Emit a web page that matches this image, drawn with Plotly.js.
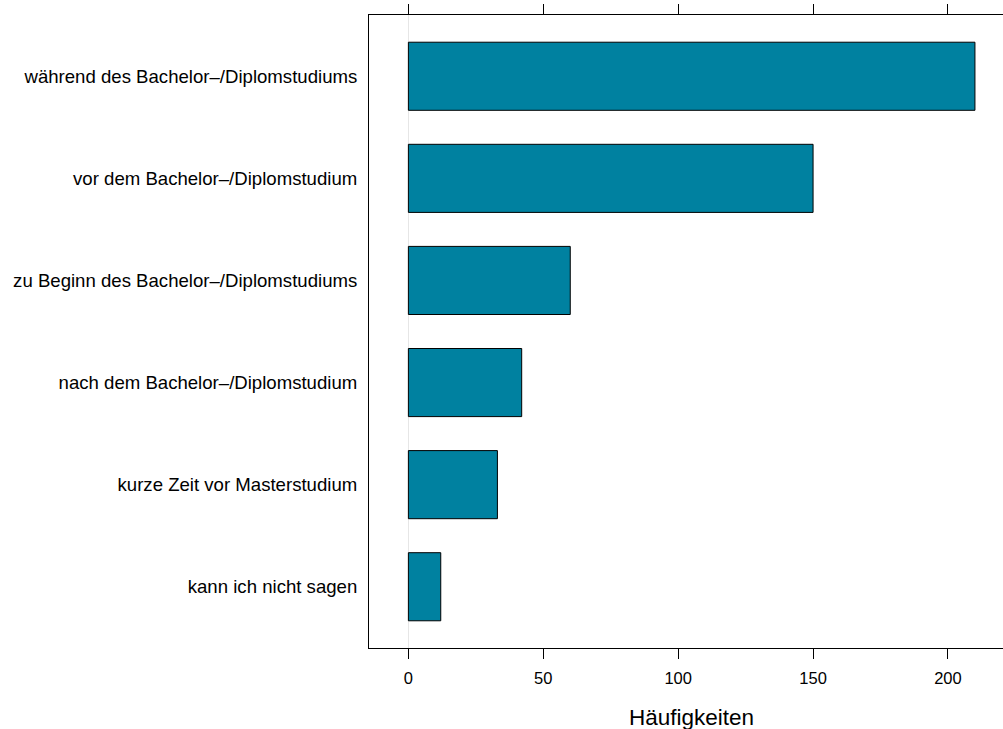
<!DOCTYPE html>
<html>
<head>
<meta charset="utf-8">
<script src="https://cdn.plot.ly/plotly-3.0.1.min.js"></script>
<style>html,body{margin:0;padding:0;background:#fff;}#chart{width:1003px;height:729px;}</style>
</head>
<body>
<div id="chart"></div>
<script>
const categories = [
  "während des Bachelor–/Diplomstudiums",
  "vor dem Bachelor–/Diplomstudium",
  "zu Beginn des Bachelor–/Diplomstudiums",
  "nach dem Bachelor–/Diplomstudium",
  "kurze Zeit vor Masterstudium",
  "kann ich nicht sagen"
];
const counts = [210, 150, 60, 42, 33, 12];
const tickValues = [0, 50, 100, 150, 200];
const xTitle = "Häufigkeiten";

const font = "Liberation Sans, Arial, Helvetica, sans-serif";

const trace = {
  type: "bar",
  orientation: "h",
  x: counts,
  y: categories,
  marker: { color: "#0081a0", line: { color: "#000000", width: 1 } },
  hoverinfo: "x+y"
};

const layout = {
  width: 1003,
  height: 729,
  margin: { l: 369, r: 0, t: 15, b: 81 },
  paper_bgcolor: "#ffffff",
  plot_bgcolor: "#ffffff",
  showlegend: false,
  bargap: 0.333,
  font: { family: font, color: "#000000", size: 16 },
  xaxis: {
    range: [-14.6, 220.4],
    tickmode: "array",
    tickvals: tickValues,
    ticktext: tickValues.map(String),
    ticks: "outside",
    ticklen: 10,
    tickwidth: 1,
    tickcolor: "#000000",
    showline: true,
    linecolor: "#000000",
    linewidth: 1,
    mirror: "ticks",
    showgrid: false,
    zeroline: true,
    zerolinecolor: "#e6e6e6",
    zerolinewidth: 1,
    ticklabelstandoff: 5,
    tickfont: { size: 16.5, family: font },
    fixedrange: true
  },
  yaxis: {
    type: "category",
    range: [5.6, -0.6],
    ticks: "",
    showline: true,
    linecolor: "#000000",
    linewidth: 1,
    mirror: false,
    showgrid: false,
    zeroline: false,
    ticklabelstandoff: 7,
    tickfont: { size: 18.6, family: font },
    fixedrange: true
  },
  annotations: [{
    text: xTitle,
    xref: "x",
    yref: "paper",
    x: 105,
    y: 0,
    yshift: -69,
    showarrow: false,
    xanchor: "center",
    yanchor: "middle",
    font: { size: 22.5, family: font, color: "#000000" }
  }]
};

Plotly.newPlot("chart", [trace], layout, { displayModeBar: false, staticPlot: true });
</script>
</body>
</html>
